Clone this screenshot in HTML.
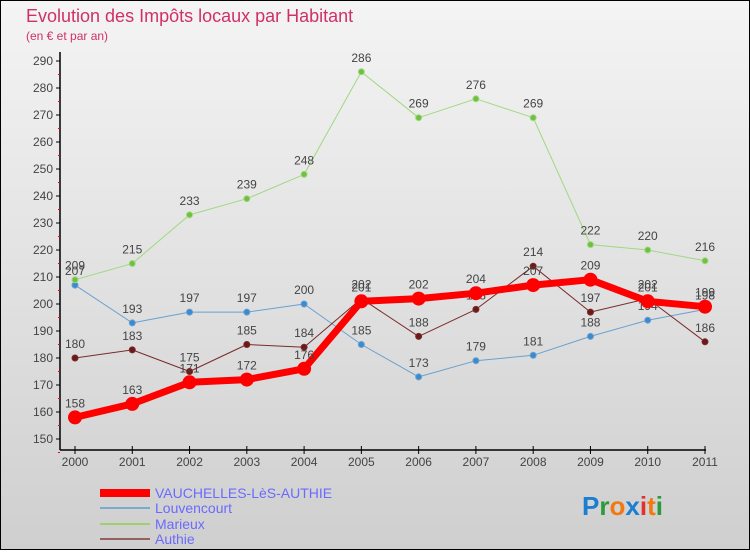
<!DOCTYPE html>
<html><head><meta charset="utf-8"><style>
body{margin:0;width:750px;height:550px;overflow:hidden;font-family:"Liberation Sans",sans-serif}
</style></head><body>
<svg id="c" width="750" height="550" xmlns="http://www.w3.org/2000/svg">
<defs><linearGradient id="bg" x1="0" y1="0" x2="0" y2="1"><stop offset="0" stop-color="#f4f4f4"/><stop offset="1" stop-color="#cfcfcf"/></linearGradient></defs>
<rect x="0.5" y="0.5" width="749" height="549" fill="url(#bg)" stroke="#000"/>
<text x="26" y="22" font-size="18" fill="#d0306a">Evolution des Impôts locaux par Habitant</text>
<text x="26" y="40" font-size="12" fill="#d0306a">(en € et par an)</text>
<g id="axes"></g><g id="series"></g>
<g>
<rect x="100" y="489" width="50" height="8" fill="#f00"/>
<text x="155" y="498" font-size="14" fill="#6a6aff">VAUCHELLES-LèS-AUTHIE</text>
<line x1="100" y1="508" x2="150" y2="508" stroke="#7aaad0" stroke-width="2"/>
<text x="155" y="513" font-size="14" fill="#6a6aff">Louvencourt</text>
<line x1="100" y1="524" x2="150" y2="524" stroke="#9ed070" stroke-width="2"/>
<text x="155" y="529" font-size="14" fill="#6a6aff">Marieux</text>
<line x1="100" y1="539" x2="150" y2="539" stroke="#946060" stroke-width="2"/>
<text x="155" y="544" font-size="14" fill="#6a6aff">Authie</text>
</g>
<text x="582" y="515" font-size="26" font-weight="bold"><tspan fill="#1a7fd0">P</tspan><tspan fill="#2a9a3a">r</tspan><tspan fill="#f07a10">o</tspan><tspan fill="#1a7fd0">x</tspan><tspan fill="#e03030">i</tspan><tspan fill="#f07a10">t</tspan><tspan fill="#2a9a3a">i</tspan></text>
</svg>
<script>
const years=["2000","2001","2002","2003","2004","2005","2006","2007","2008","2009","2010","2011"];
const yTicks=[150,160,170,180,190,200,210,220,230,240,250,260,270,280,290];
const vauchelles=[158,163,171,172,176,201,202,204,207,209,201,199];
const louvencourt=[207,193,197,197,200,185,173,179,181,188,194,198];
const marieux=[209,215,233,239,248,286,269,276,269,222,220,216];
const authie=[180,183,175,185,184,202,188,198,214,197,202,186];
const NS="http://www.w3.org/2000/svg";
const X=i=>75+i*(630/11);
const Y=v=>439-(v-150)*2.7;
function mk(tag,attrs,parent,txt){const e=document.createElementNS(NS,tag);for(const k in attrs)e.setAttribute(k,attrs[k]);if(txt!==undefined)e.textContent=txt;parent.appendChild(e);return e;}
const ax=document.getElementById('axes');
let a=mk('line',{x1:60,y1:52,x2:60,y2:450,stroke:'#000','stroke-width':1.5},ax);


a=mk('line',{x1:60,y1:450,x2:706,y2:450,stroke:'#000','stroke-width':1.5},ax);


yTicks.forEach(t=>{mk('line',{x1:56,y1:Y(t),x2:60,y2:Y(t),stroke:'#000'},ax);
mk('line',{x1:58,y1:Y(t)+13.5,x2:60,y2:Y(t)+13.5,stroke:'#f00'},ax);
const l=mk('text',{x:53,y:Y(t)+4,'font-size':12,fill:'#444','text-anchor':'end'},ax,t);

});
years.forEach((y,i)=>{mk('line',{x1:X(i),y1:446,x2:X(i),y2:454,stroke:'#000'},ax);
const l=mk('text',{x:X(i),y:466,'font-size':12,fill:'#444','text-anchor':'middle'},ax,y);

});
const sg=document.getElementById('series');
function series(name,data,color,w,r,dot){
const g=mk('g',{},sg);


const p=mk('polyline',{points:data.map((v,i)=>X(i)+','+Y(v)).join(' '),fill:'none',stroke:color,'stroke-width':w,'stroke-linejoin':'round'},g);


data.forEach((v,i)=>{const c=mk('circle',{cx:X(i),cy:Y(v),r:r,fill:dot,stroke:color,'stroke-width':w>3?0:1},g);


const t=mk('text',{x:X(i),y:Y(v)-10,'font-size':12,fill:'#444','text-anchor':'middle'},g,v);

});}
series('louvencourt',louvencourt,'#6aa0d0',1,3,'#3a8ad0');
series('marieux',marieux,'#a0d880',1,3,'#70c040');
series('authie',authie,'#7a2a2a',1,3,'#6a1a1a');
series('vauchelles',vauchelles,'#f00',7,7,'#f00');
</script>
</body></html>
